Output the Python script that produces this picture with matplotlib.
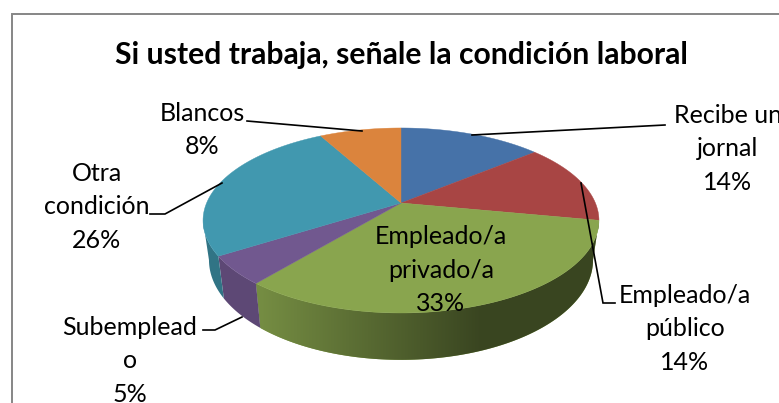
import numpy as np
import matplotlib
matplotlib.use("Agg")
import matplotlib.pyplot as plt
from matplotlib.patches import Polygon

title = "Si usted trabaja, señale la condición laboral"
categories = ["Recibe un\njornal", "Empleado/a\npúblico", "Empleado/a\nprivado/a",
              "Subemplead\no", "Otra\ncondición", "Blancos"]
values = [14, 14, 33, 5, 26, 8]
colors = ["#4672A8", "#A84544", "#89A54E", "#71588F", "#4198AF", "#DB843D"]
label_pos = [(728, 149), (685, 329), (441, 270), (130, 361), (97, 207), (202, 130)]

X0, Y0, A, B, K = 401, 203, 89.2, 194.4, 0.189
DEPTH, BOT = 38.0, 0.97

def top(t):
    X, Y = np.sin(t), np.cos(t)
    d = 1 + K * Y
    return X0 + B * X / d, Y0 - A * Y / d

def bottom(t):
    X, Y = np.sin(t), np.cos(t)
    d = 1 + K * Y
    return X0 + BOT * B * X / d, Y0 - A * Y / d + DEPTH / d

def mix(c, f):
    return tuple(min(1, v * f) for v in matplotlib.colors.to_rgb(c))

fig = plt.figure(figsize=(7.79, 4.03), dpi=100)
ax = fig.add_axes([0, 0, 1, 1])
ax.axis("off")
plt.rcParams["font.family"] = ["Lato", "DejaVu Sans"]

edges = np.radians(np.cumsum([0] + values) * 3.6)

# side wall, only the visible front part
vis0, vis1 = np.radians(100.9), np.radians(259)
flat_shade = {3: 0.82, 4: 0.76}
for i, c in enumerate(colors):
    a0, a1 = max(edges[i], vis0), min(edges[i + 1], vis1)
    if a1 <= a0:
        continue
    ts = np.linspace(a0, a1, 120)
    xa, ya = top(ts)
    xb, yb = bottom(ts[::-1])
    wall = Polygon(np.c_[np.r_[xa, xb], np.r_[ya, yb]], closed=True,
                   fc=mix(c, flat_shade.get(i, 1)), ec="none")
    ax.add_patch(wall)
    if i == 2:
        px = np.arange(240, 610)
        shade = np.interp(px, [262, 480, 600], [0.85, 0.42, 0.42])
        grad = np.array([mix(c, f) for f in shade])[None, :, :]
        im = ax.imshow(grad, extent=(240, 610, 370, 200), aspect="auto",
                       interpolation="bilinear", zorder=1)
        im.set_clip_path(wall)

# top face
for i, c in enumerate(colors):
    ts = np.linspace(edges[i], edges[i + 1], 80)
    x, y = top(ts)
    ax.add_patch(Polygon(np.c_[np.r_[X0, x], np.r_[Y0, y]], closed=True, fc=c, ec=c, lw=0.3, zorder=2))

# leader lines
leaders = [
    [(665, 125), (472, 135)],
    [(581, 183), (603, 303), (615, 303)],
    [(203, 330), (215, 330), (242, 317)],
    [(150, 214), (165, 214), (222, 183)],
    [(247, 121), (362, 131)],
]
for pts in leaders:
    xs, ys = zip(*pts)
    ax.plot(xs, ys, color="black", lw=1.2, solid_joinstyle="miter", zorder=3)

for lab, v, (x, y) in zip(categories, values, label_pos):
    ax.text(x, y, f"{lab}\n{v}%", ha="center", va="center", fontsize=18,
            color="black", linespacing=1.55, family=["Lato", "DejaVu Sans"], zorder=4)

ax.text(401, 55, title, ha="center", va="center", fontsize=21.7, fontweight="bold",
        color="black", family=["Lato", "DejaVu Sans"], zorder=4)

# chart frame (continues past the picture on right and bottom)
ax.plot([12.5, 12.5, 790], [410, 13.5, 13.5], color="#868686", lw=1.4, solid_joinstyle="miter")

ax.set_xlim(0, 779); ax.set_ylim(403, 0)
fig.savefig("out.png", dpi=100)
